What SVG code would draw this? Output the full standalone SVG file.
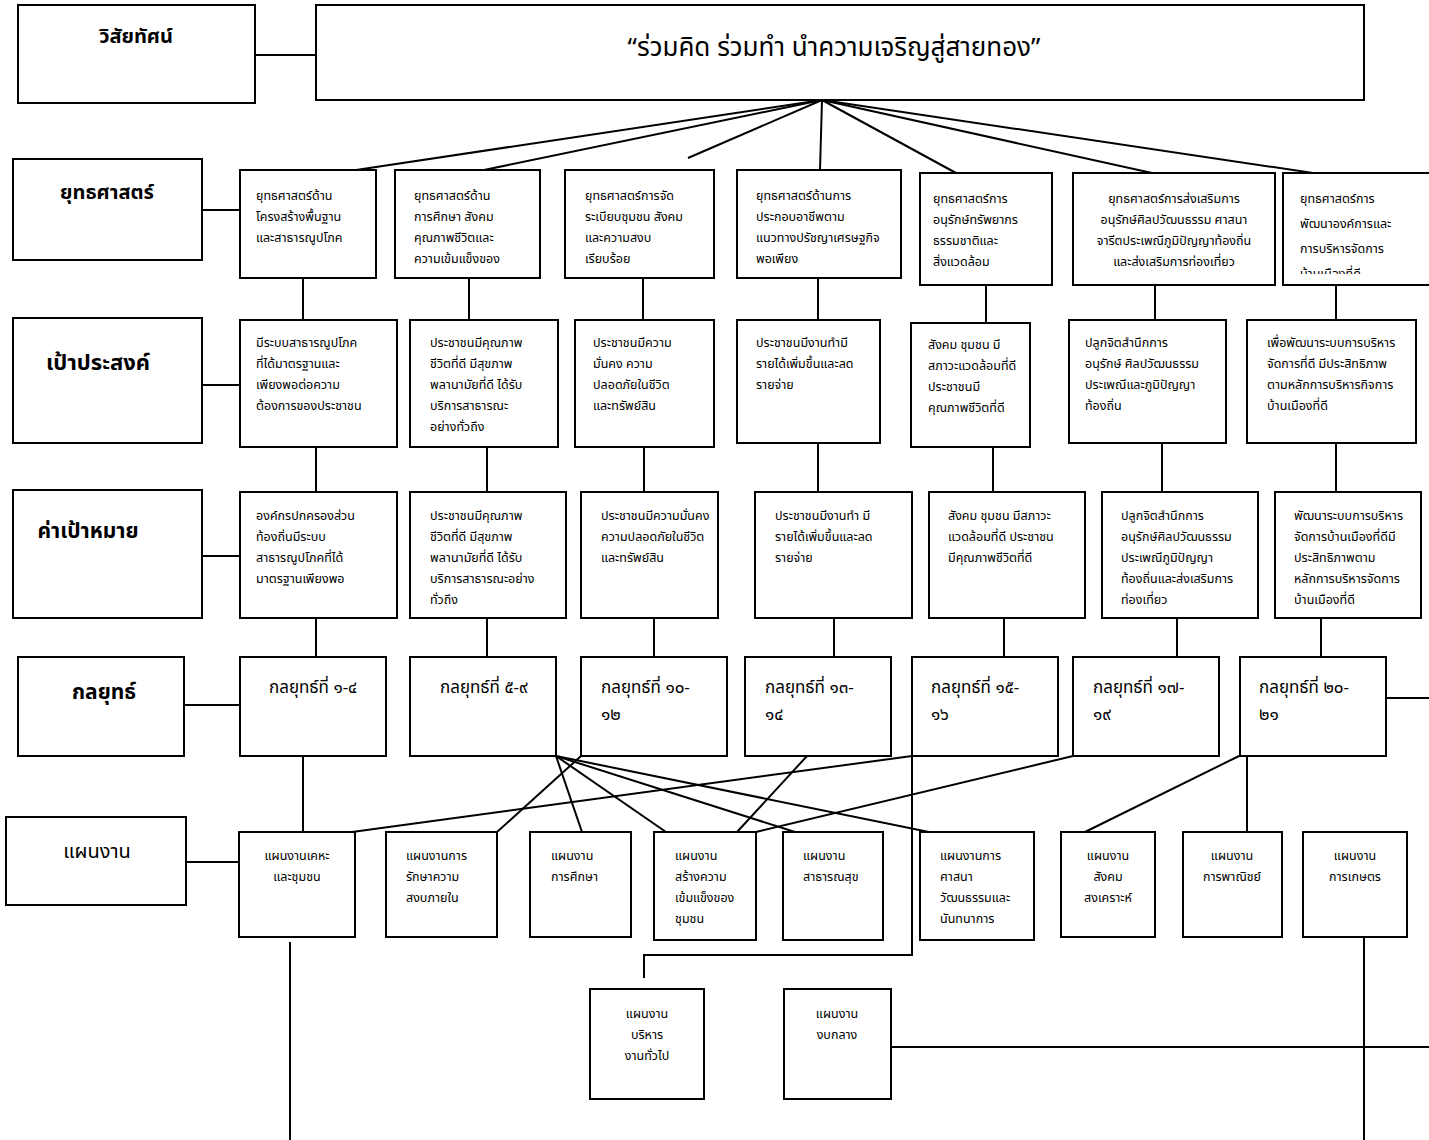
<svg xmlns="http://www.w3.org/2000/svg" width="1429" height="1140" viewBox="0 0 1429 1140">
<style>
.b{fill:#fff;stroke:#000;stroke-width:2}
.t{font-family:'Noto Sans Thai','Noto Sans','DejaVu Sans',sans-serif;font-size:12.5px;fill:#000}
.c{text-anchor:middle}
.h{font-family:'Noto Sans Thai','Noto Sans','DejaVu Sans',sans-serif;font-size:20px;font-weight:bold;fill:#000;text-anchor:middle}
.k{font-family:'Noto Sans Thai','Noto Sans','DejaVu Sans',sans-serif;font-size:17px;fill:#000}
.v{font-family:'Noto Sans Thai','Noto Sans','DejaVu Sans',sans-serif;font-size:26px;fill:#000;text-anchor:middle}
#conn line,#conn polyline{stroke:#000;stroke-width:2;fill:none}
</style>
<defs><clipPath id="cs7"><rect x="1283" y="173" width="146" height="101"/></clipPath></defs>
<rect width="1429" height="1140" fill="#fff"/>
<g id="conn">
<line x1="255" y1="55" x2="316" y2="55"/>
<line x1="822" y1="100" x2="356" y2="170"/>
<line x1="822" y1="100" x2="484" y2="170"/>
<line x1="822" y1="100" x2="688" y2="158"/>
<line x1="822" y1="100" x2="820" y2="170"/>
<line x1="822" y1="100" x2="956" y2="173"/>
<line x1="822" y1="100" x2="1152" y2="173"/>
<line x1="822" y1="100" x2="1313" y2="173"/>
<line x1="202" y1="210" x2="240" y2="210"/>
<line x1="303" y1="278" x2="303" y2="320"/>
<line x1="469" y1="278" x2="469" y2="320"/>
<line x1="643" y1="278" x2="643" y2="320"/>
<line x1="818" y1="278" x2="818" y2="320"/>
<line x1="986" y1="285" x2="986" y2="323"/>
<line x1="1155" y1="285" x2="1155" y2="320"/>
<line x1="1336" y1="285" x2="1336" y2="320"/>
<line x1="202" y1="385" x2="240" y2="385"/>
<line x1="316" y1="447" x2="316" y2="492"/>
<line x1="487" y1="447" x2="487" y2="492"/>
<line x1="644" y1="447" x2="644" y2="492"/>
<line x1="818" y1="443" x2="818" y2="492"/>
<line x1="993" y1="447" x2="993" y2="492"/>
<line x1="1162" y1="443" x2="1162" y2="492"/>
<line x1="1336" y1="443" x2="1336" y2="492"/>
<line x1="202" y1="556" x2="240" y2="556"/>
<line x1="316" y1="618" x2="316" y2="657"/>
<line x1="487" y1="618" x2="487" y2="657"/>
<line x1="654" y1="618" x2="654" y2="657"/>
<line x1="834" y1="618" x2="834" y2="657"/>
<line x1="1004" y1="618" x2="1004" y2="657"/>
<line x1="1177" y1="618" x2="1177" y2="657"/>
<line x1="1321" y1="618" x2="1321" y2="657"/>
<line x1="184" y1="705" x2="240" y2="705"/>
<line x1="1386" y1="698" x2="1429" y2="698"/>
<line x1="303" y1="756" x2="303" y2="832"/>
<line x1="186" y1="862" x2="239" y2="862"/>
<line x1="556" y1="756" x2="582" y2="832"/>
<line x1="556" y1="756" x2="666" y2="832"/>
<line x1="556" y1="756" x2="795" y2="832"/>
<line x1="556" y1="756" x2="929" y2="832"/>
<line x1="581" y1="756" x2="497" y2="832"/>
<line x1="807" y1="756" x2="737" y2="832"/>
<line x1="912" y1="756" x2="352" y2="832"/>
<line x1="1073" y1="756" x2="756" y2="832"/>
<line x1="1239" y1="756" x2="1085" y2="832"/>
<line x1="1247" y1="756" x2="1247" y2="832"/>
<polyline points="912,756 912,955 644,955 644,978"/>
<line x1="290" y1="942" x2="290" y2="1140"/>
<line x1="1364" y1="937" x2="1364" y2="1140"/>
<line x1="891" y1="1047" x2="1429" y2="1047"/>
</g>

<g id="lbl-vision"><rect class="b" x="18" y="5" width="237" height="98"/><text class="h" x="136" y="43">วิสัยทัศน์</text></g>
<g id="vision"><rect class="b" x="316" y="5" width="1048" height="95"/><text class="v" x="834" y="56">“ร่วมคิด ร่วมทำ นำความเจริญสู่สายทอง”</text></g>

<g id="lbl-strategy"><rect class="b" x="13" y="159" width="189" height="101"/><text class="h" x="107" y="199">ยุทธศาสตร์</text></g>
<g id="lbl-goal"><rect class="b" x="13" y="318" width="189" height="125"/><text class="h" x="98" y="370" style="font-size:22px">เป้าประสงค์</text></g>
<g id="lbl-target"><rect class="b" x="13" y="490" width="189" height="128"/><text class="h" x="88" y="538" style="font-size:21px">ค่าเป้าหมาย</text></g>
<g id="lbl-tactic"><rect class="b" x="18" y="657" width="166" height="99"/><text class="h" x="104" y="699" style="font-size:21px">กลยุทธ์</text></g>
<g id="lbl-plan"><rect class="b" x="6" y="817" width="180" height="88"/><text class="h" x="97" y="858" style="font-weight:normal">แผนงาน</text></g>

<g id="s1"><rect class="b" x="240" y="170" width="136" height="108"/><text class="t" x="256" y="200">ยุทธศาสตร์ด้าน</text><text class="t" x="256" y="221">โครงสร้างพื้นฐาน</text><text class="t" x="256" y="242">และสาธารณูปโภค</text></g>
<g id="s2"><rect class="b" x="395" y="170" width="145" height="108"/><text class="t" x="414" y="200">ยุทธศาสตร์ด้าน</text><text class="t" x="414" y="221">การศึกษา สังคม</text><text class="t" x="414" y="242">คุณภาพชีวิตและ</text><text class="t" x="414" y="263">ความเข้มแข็งของ</text></g>
<g id="s3"><rect class="b" x="565" y="170" width="149" height="108"/><text class="t" x="585" y="200">ยุทธศาสตร์การจัด</text><text class="t" x="585" y="221">ระเบียบชุมชน สังคม</text><text class="t" x="585" y="242">และความสงบ</text><text class="t" x="585" y="263">เรียบร้อย</text></g>
<g id="s4"><rect class="b" x="737" y="170" width="164" height="108"/><text class="t" x="756" y="200">ยุทธศาสตร์ด้านการ</text><text class="t" x="756" y="221">ประกอบอาชีพตาม</text><text class="t" x="756" y="242">แนวทางปรัชญาเศรษฐกิจ</text><text class="t" x="756" y="263">พอเพียง</text></g>
<g id="s5"><rect class="b" x="920" y="173" width="132" height="112"/><text class="t" x="933" y="203">ยุทธศาสตร์การ</text><text class="t" x="933" y="224">อนุรักษ์ทรัพยากร</text><text class="t" x="933" y="245">ธรรมชาติและ</text><text class="t" x="933" y="266">สิ่งแวดล้อม</text></g>
<g id="s6"><rect class="b" x="1073" y="173" width="202" height="112"/><text class="t c" x="1174" y="203">ยุทธศาสตร์การส่งเสริมการ</text><text class="t c" x="1174" y="224">อนุรักษ์ศิลปวัฒนธรรม ศาสนา</text><text class="t c" x="1174" y="245">จารีตประเพณีภูมิปัญญาท้องถิ่น</text><text class="t c" x="1174" y="266">และส่งเสริมการท่องเที่ยว</text></g>
<g id="s7"><rect class="b" x="1283" y="173" width="160" height="112"/><g clip-path="url(#cs7)"><text class="t" x="1300" y="203">ยุทธศาสตร์การ</text><text class="t" x="1300" y="228">พัฒนาองค์การและ</text><text class="t" x="1300" y="253">การบริหารจัดการ</text><text class="t" x="1300" y="278">บ้านเมืองที่ดี</text></g></g>

<g id="g1"><rect class="b" x="240" y="320" width="157" height="127"/><text class="t" x="256" y="347">มีระบบสาธารณูปโภค</text><text class="t" x="256" y="368">ที่ได้มาตรฐานและ</text><text class="t" x="256" y="389">เพียงพอต่อความ</text><text class="t" x="256" y="410">ต้องการของประชาชน</text></g>
<g id="g2"><rect class="b" x="410" y="320" width="148" height="127"/><text class="t" x="430" y="347">ประชาชนมีคุณภาพ</text><text class="t" x="430" y="368">ชีวิตที่ดี มีสุขภาพ</text><text class="t" x="430" y="389">พลานามัยที่ดี ได้รับ</text><text class="t" x="430" y="410">บริการสาธารณะ</text><text class="t" x="430" y="431">อย่างทั่วถึง</text></g>
<g id="g3"><rect class="b" x="575" y="320" width="139" height="127"/><text class="t" x="593" y="347">ประชาชนมีความ</text><text class="t" x="593" y="368">มั่นคง ความ</text><text class="t" x="593" y="389">ปลอดภัยในชีวิต</text><text class="t" x="593" y="410">และทรัพย์สิน</text></g>
<g id="g4"><rect class="b" x="737" y="320" width="143" height="123"/><text class="t" x="756" y="347">ประชาชนมีงานทำมี</text><text class="t" x="756" y="368">รายได้เพิ่มขึ้นและลด</text><text class="t" x="756" y="389">รายจ่าย</text></g>
<g id="g5"><rect class="b" x="911" y="323" width="119" height="124"/><text class="t" x="928" y="349">สังคม ชุมชน มี</text><text class="t" x="928" y="370">สภาวะแวดล้อมที่ดี</text><text class="t" x="928" y="391">ประชาชนมี</text><text class="t" x="928" y="412">คุณภาพชีวิตที่ดี</text></g>
<g id="g6"><rect class="b" x="1069" y="320" width="157" height="123"/><text class="t" x="1085" y="347">ปลูกจิตสำนึกการ</text><text class="t" x="1085" y="368">อนุรักษ์ ศิลปวัฒนธรรม</text><text class="t" x="1085" y="389">ประเพณีและภูมิปัญญา</text><text class="t" x="1085" y="410">ท้องถิ่น</text></g>
<g id="g7"><rect class="b" x="1247" y="320" width="169" height="123"/><text class="t" x="1267" y="347">เพื่อพัฒนาระบบการบริหาร</text><text class="t" x="1267" y="368">จัดการที่ดี มีประสิทธิภาพ</text><text class="t" x="1267" y="389">ตามหลักการบริหารกิจการ</text><text class="t" x="1267" y="410">บ้านเมืองที่ดี</text></g>

<g id="t1"><rect class="b" x="240" y="492" width="157" height="126"/><text class="t" x="256" y="520">องค์กรปกครองส่วน</text><text class="t" x="256" y="541">ท้องถิ่นมีระบบ</text><text class="t" x="256" y="562">สาธารณูปโภคที่ได้</text><text class="t" x="256" y="583">มาตรฐานเพียงพอ</text></g>
<g id="t2"><rect class="b" x="410" y="492" width="156" height="126"/><text class="t" x="430" y="520">ประชาชนมีคุณภาพ</text><text class="t" x="430" y="541">ชีวิตที่ดี มีสุขภาพ</text><text class="t" x="430" y="562">พลานามัยที่ดี ได้รับ</text><text class="t" x="430" y="583">บริการสาธารณะอย่าง</text><text class="t" x="430" y="604">ทั่วถึง</text></g>
<g id="t3"><rect class="b" x="581" y="492" width="137" height="126"/><text class="t" x="601" y="520">ประชาชนมีความมั่นคง</text><text class="t" x="601" y="541">ความปลอดภัยในชีวิต</text><text class="t" x="601" y="562">และทรัพย์สิน</text></g>
<g id="t4"><rect class="b" x="755" y="492" width="157" height="126"/><text class="t" x="775" y="520">ประชาชนมีงานทำ มี</text><text class="t" x="775" y="541">รายได้เพิ่มขึ้นและลด</text><text class="t" x="775" y="562">รายจ่าย</text></g>
<g id="t5"><rect class="b" x="929" y="492" width="156" height="126"/><text class="t" x="948" y="520">สังคม ชุมชน มีสภาวะ</text><text class="t" x="948" y="541">แวดล้อมที่ดี ประชาชน</text><text class="t" x="948" y="562">มีคุณภาพชีวิตที่ดี</text></g>
<g id="t6"><rect class="b" x="1102" y="492" width="156" height="126"/><text class="t" x="1121" y="520">ปลูกจิตสำนึกการ</text><text class="t" x="1121" y="541">อนุรักษ์ศิลปวัฒนธรรม</text><text class="t" x="1121" y="562">ประเพณีภูมิปัญญา</text><text class="t" x="1121" y="583">ท้องถิ่นและส่งเสริมการ</text><text class="t" x="1121" y="604">ท่องเที่ยว</text></g>
<g id="t7"><rect class="b" x="1275" y="492" width="146" height="126"/><text class="t" x="1294" y="520">พัฒนาระบบการบริหาร</text><text class="t" x="1294" y="541">จัดการบ้านเมืองที่ดีมี</text><text class="t" x="1294" y="562">ประสิทธิภาพตาม</text><text class="t" x="1294" y="583">หลักการบริหารจัดการ</text><text class="t" x="1294" y="604">บ้านเมืองที่ดี</text></g>

<g id="k1"><rect class="b" x="240" y="657" width="146" height="99"/><text class="k" x="269" y="693">กลยุทธ์ที่ ๑-๔</text></g>
<g id="k2"><rect class="b" x="410" y="657" width="146" height="99"/><text class="k" x="440" y="693">กลยุทธ์ที่ ๕-๙</text></g>
<g id="k3"><rect class="b" x="581" y="657" width="146" height="99"/><text class="k" x="601" y="693">กลยุทธ์ที่ ๑๐-</text><text class="k" x="601" y="720">๑๒</text></g>
<g id="k4"><rect class="b" x="745" y="657" width="146" height="99"/><text class="k" x="765" y="693">กลยุทธ์ที่ ๑๓-</text><text class="k" x="765" y="720">๑๔</text></g>
<g id="k5"><rect class="b" x="912" y="657" width="146" height="99"/><text class="k" x="931" y="693">กลยุทธ์ที่ ๑๕-</text><text class="k" x="931" y="720">๑๖</text></g>
<g id="k6"><rect class="b" x="1073" y="657" width="146" height="99"/><text class="k" x="1093" y="693">กลยุทธ์ที่ ๑๗-</text><text class="k" x="1093" y="720">๑๙</text></g>
<g id="k7"><rect class="b" x="1240" y="657" width="146" height="99"/><text class="k" x="1259" y="693">กลยุทธ์ที่ ๒๐-</text><text class="k" x="1259" y="720">๒๑</text></g>

<g id="p1"><rect class="b" x="239" y="832" width="116" height="105"/><text class="t c" x="297" y="860">แผนงานเคหะ</text><text class="t c" x="297" y="881">และชุมชน</text></g>
<g id="p2"><rect class="b" x="386" y="832" width="111" height="105"/><text class="t" x="406" y="860">แผนงานการ</text><text class="t" x="406" y="881">รักษาความ</text><text class="t" x="406" y="902">สงบภายใน</text></g>
<g id="p3"><rect class="b" x="530" y="832" width="101" height="105"/><text class="t" x="551" y="860">แผนงาน</text><text class="t" x="551" y="881">การศึกษา</text></g>
<g id="p4"><rect class="b" x="654" y="832" width="102" height="108"/><text class="t" x="675" y="860">แผนงาน</text><text class="t" x="675" y="881">สร้างความ</text><text class="t" x="675" y="902">เข้มแข็งของ</text><text class="t" x="675" y="923">ชุมชน</text></g>
<g id="p5"><rect class="b" x="783" y="832" width="100" height="108"/><text class="t" x="803" y="860">แผนงาน</text><text class="t" x="803" y="881">สาธารณสุข</text></g>
<g id="p6"><rect class="b" x="920" y="832" width="114" height="108"/><text class="t" x="940" y="860">แผนงานการ</text><text class="t" x="940" y="881">ศาสนา</text><text class="t" x="940" y="902">วัฒนธรรมและ</text><text class="t" x="940" y="923">นันทนาการ</text></g>
<g id="p7"><rect class="b" x="1061" y="832" width="94" height="105"/><text class="t c" x="1108" y="860">แผนงาน</text><text class="t c" x="1108" y="881">สังคม</text><text class="t c" x="1108" y="902">สงเคราะห์</text></g>
<g id="p8"><rect class="b" x="1183" y="832" width="99" height="105"/><text class="t c" x="1232" y="860">แผนงาน</text><text class="t c" x="1232" y="881">การพาณิชย์</text></g>
<g id="p9"><rect class="b" x="1303" y="832" width="104" height="105"/><text class="t c" x="1355" y="860">แผนงาน</text><text class="t c" x="1355" y="881">การเกษตร</text></g>
<g id="p10"><rect class="b" x="590" y="989" width="114" height="110"/><text class="t c" x="647" y="1018">แผนงาน</text><text class="t c" x="647" y="1039">บริหาร</text><text class="t c" x="647" y="1060">งานทั่วไป</text></g>
<g id="p11"><rect class="b" x="784" y="989" width="107" height="110"/><text class="t c" x="837" y="1018">แผนงาน</text><text class="t c" x="837" y="1039">งบกลาง</text></g>
</svg>
